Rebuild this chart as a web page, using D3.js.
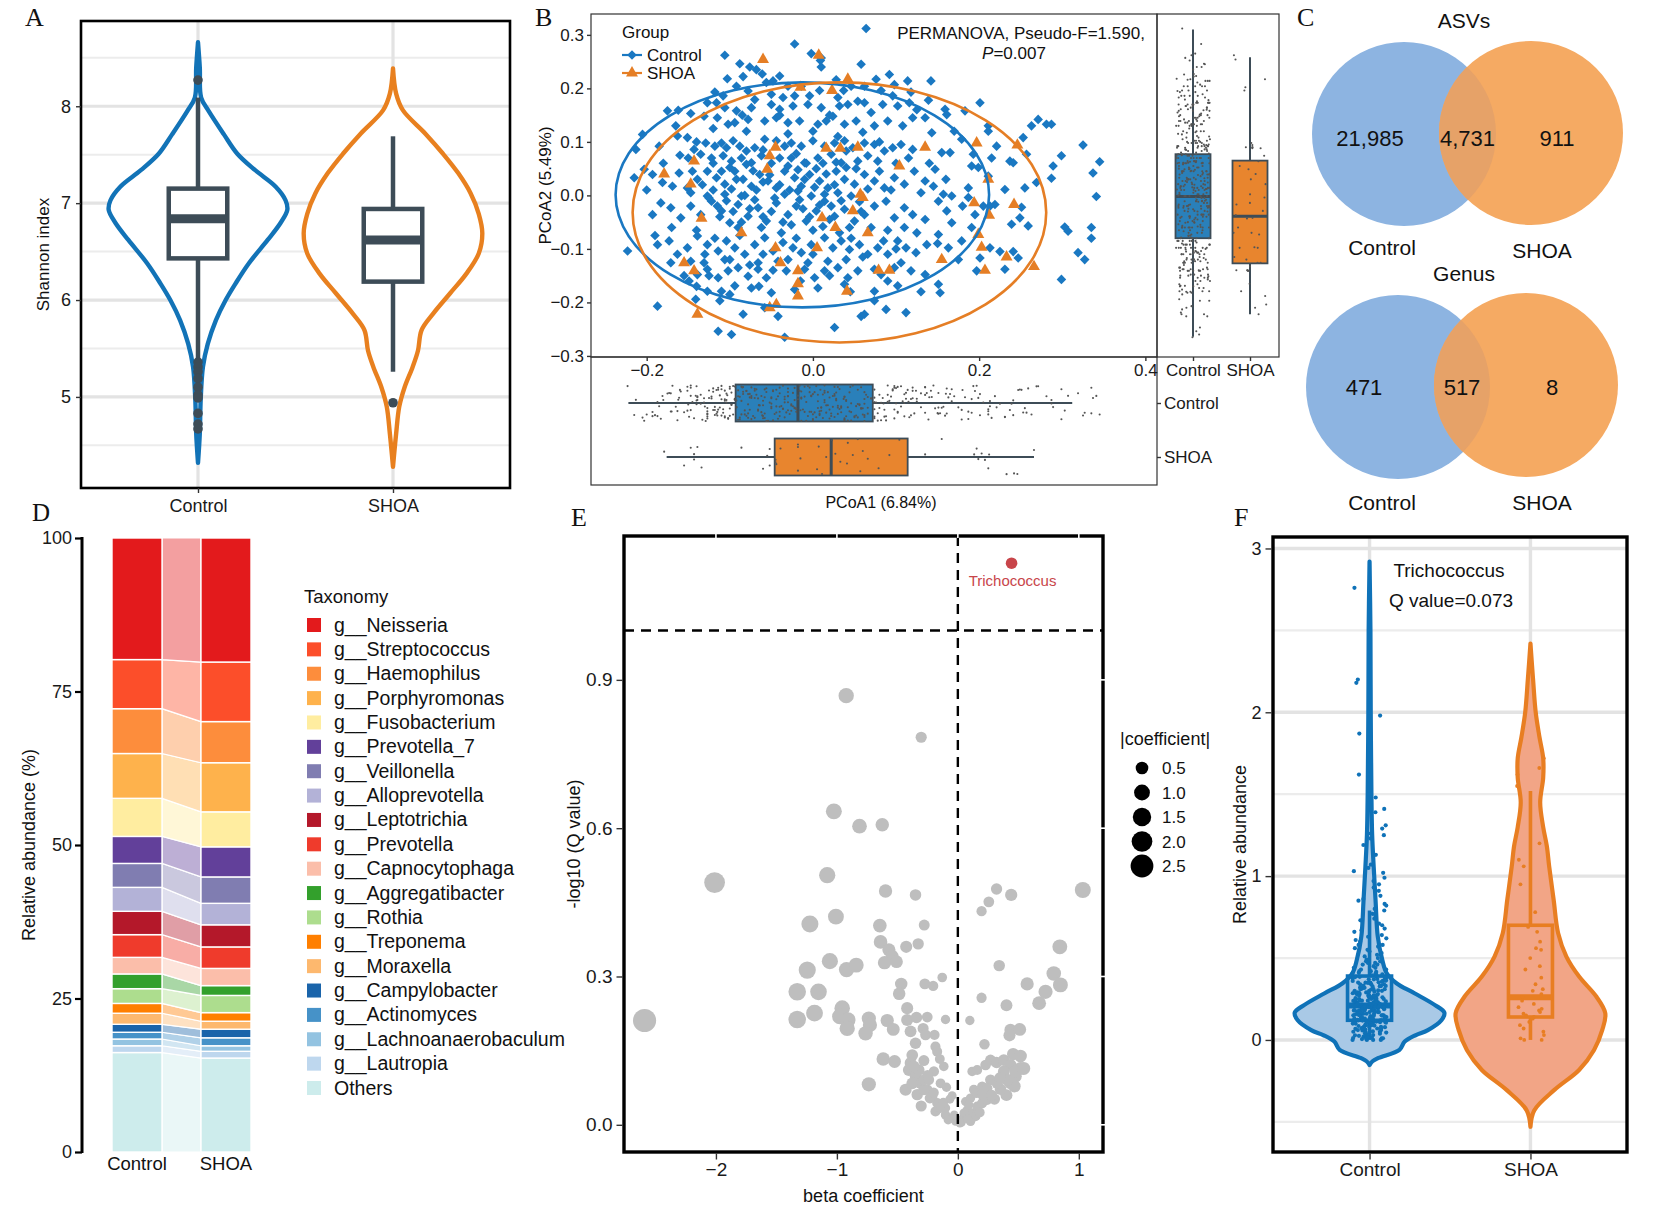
<!DOCTYPE html>
<html>
<head>
<meta charset="utf-8">
<script src="https://cdn.jsdelivr.net/npm/d3@7"></script>
<style>
  body { margin: 0; background: #fff; }
  svg { display: block; }
</style>
</head>
<body>
<svg id="fig" width="1654" height="1211"></svg>
<script>
// Six-panel microbiome figure (A–F), drawn with D3.

const SANS   = '"Liberation Sans", Arial, Helvetica, sans-serif';
const NARROW = '"Liberation Sans Narrow", "Arial Narrow", "Liberation Sans", Arial, sans-serif';
const SERIF  = '"Liberation Serif", "Times New Roman", serif';

const groups = ['Control', 'SHOA'];
const blue = '#1273B7', orange = '#E8801F', slate = '#3D4C57';

// ---------- A: Shannon index violins (value, relative half-width)
const shannonViolinControl = [[8.66,0],[8.40,0.02],[8.09,0.035],[7.95,0.12],[7.71,0.29],[7.51,0.44],[7.34,0.64],[7.17,0.87],[7.03,0.98],[6.93,1.0],[6.79,0.92],[6.62,0.78],[6.38,0.57],[6.17,0.42],[6.0,0.31],[5.79,0.2],[5.55,0.11],[5.31,0.055],[4.97,0.03],[4.62,0.02],[4.32,0]];
const shannonViolinSHOA = [[8.39,0],[8.13,0.035],[7.96,0.11],[7.72,0.36],[7.51,0.56],[7.31,0.73],[7.10,0.87],[6.89,0.96],[6.69,1.0],[6.48,0.96],[6.27,0.82],[6.07,0.64],[5.86,0.45],[5.69,0.32],[5.48,0.28],[5.31,0.22],[5.10,0.13],[4.90,0.07],[4.62,0.035],[4.28,0]];
const shannonBox = [
  { group: 'Control', lo: 5.35, q1: 6.43, med: 6.84, q3: 7.15, hi: 8.09, out: [8.27,5.36,5.31,5.26,5.19,5.10,5.02,4.99,4.83,4.72,4.67] },
  { group: 'SHOA',    lo: 5.26, q1: 6.19, med: 6.62, q3: 6.94, hi: 7.69, out: [4.94] }
];

// ---------- B: PCoA scores [PCoA1, PCoA2]
const pcoaControl = [
[0.064,0.312],[-0.022,0.283],[-0.002,0.265],[-0.106,0.262],[0.010,0.257],[-0.088,0.246],[-0.076,0.240],[-0.068,0.235],[-0.061,0.227],[-0.084,0.222],[-0.103,0.218],[-0.040,0.223],[0.010,0.240],[0.009,0.252],[0.058,0.245],[0.028,0.216],[0.076,0.217],[0.092,0.226],[0.142,0.214],[0.098,0.207],[0.114,0.214],[-0.092,0.204],[-0.078,0.195],[-0.056,0.211],[-0.048,0.214],[-0.030,0.204],[-0.014,0.204],[-0.004,0.186],[0.008,0.196],[0.037,0.196],[0.046,0.204],[0.062,0.204],[0.082,0.196],[0.096,0.186],[0.118,0.193],[-0.118,0.193],[-0.127,0.173],[-0.116,0.173],[-0.108,0.186],[-0.070,0.179],[-0.050,0.189],[-0.036,0.183],[-0.022,0.186],[0.030,0.183],
[-0.175,0.158],[-0.162,0.159],[-0.147,0.153],[-0.131,0.148],[-0.106,0.164],[-0.092,0.158],[-0.074,0.164],[-0.050,0.170],[-0.040,0.161],[-0.024,0.167],[-0.006,0.170],[0.010,0.164],[0.032,0.167],[0.042,0.170],[0.054,0.176],[0.062,0.173],[0.084,0.170],[0.102,0.167],[0.116,0.173],[0.139,0.178],[0.159,0.161],[0.161,0.151],[0.183,0.158],[0.201,0.173],[0.135,0.145],[0.211,0.130],[0.271,0.142],[0.281,0.133],[0.287,0.133],[0.263,0.130],[-0.102,0.133],[-0.094,0.136],[-0.078,0.142],[-0.058,0.139],[-0.044,0.145],[-0.030,0.136],[-0.016,0.139],[0.006,0.133],[0.016,0.139],[0.024,0.148],[0.038,0.133],[0.052,0.139],[0.074,0.130],[0.090,0.139],[0.108,0.130],[0.120,0.145],
[-0.205,0.114],[-0.213,0.086],[-0.185,0.092],[-0.163,0.111],[-0.151,0.108],[-0.143,0.086],[-0.129,0.098],[-0.118,0.092],[-0.110,0.098],[-0.104,0.089],[-0.096,0.102],[-0.088,0.092],[-0.080,0.083],[-0.070,0.089],[-0.058,0.105],[-0.044,0.102],[-0.034,0.092],[-0.026,0.098],[-0.014,0.092],[0.000,0.102],[0.014,0.092],[0.026,0.098],[0.038,0.102],[0.048,0.089],[0.062,0.098],[0.074,0.095],[0.086,0.083],[0.096,0.089],[0.106,0.095],[0.120,0.086],[0.143,0.117],[0.155,0.080],[0.179,0.105],[0.193,0.077],[0.215,0.070],[0.211,0.120],[0.221,0.092],[0.237,0.064],[0.253,0.108],[0.257,0.077],[0.289,0.055],[0.299,0.074],[0.325,0.094],[0.345,0.063],
[-0.135,0.077],[-0.122,0.070],[-0.108,0.074],[-0.098,0.064],[-0.086,0.070],[-0.074,0.061],[-0.062,0.074],[-0.026,0.070],[-0.010,0.061],[0.006,0.070],[0.022,0.077],[0.034,0.061],[0.054,0.064],[0.066,0.074],[0.078,0.064],
[-0.215,0.033],[-0.203,0.049],[-0.193,0.039],[-0.181,0.024],[-0.169,0.017],[-0.161,0.042],[-0.151,0.014],[-0.139,0.030],[-0.127,0.045],[-0.116,0.033],[-0.106,0.021],[-0.094,0.045],[-0.084,0.030],[-0.074,0.017],[-0.064,0.039],[-0.054,0.027],[-0.044,0.014],[-0.034,0.045],[-0.022,0.033],[-0.014,0.017],[-0.004,0.039],[0.008,0.027],[0.018,0.014],[0.028,0.045],[0.038,0.030],[0.050,0.021],[0.062,0.039],[0.074,0.027],[0.086,0.014],[0.098,0.033],[0.110,0.021],[0.122,0.045],[0.135,0.027],[0.147,0.049],[0.145,0.017],[0.157,0.002],[0.167,-0.001],[0.187,0.014],[0.191,0.055],[0.199,0.052],[0.211,0.036],[0.231,0.011],[0.241,0.061],[0.255,0.014],[0.269,0.024],[0.287,0.032],[0.337,0.042],[0.341,-0.002],[-0.034,0.002],[-0.018,0.008],[-0.002,-0.001],[0.014,0.002],[0.030,0.005],[0.046,-0.001],[-0.086,-0.001],[-0.106,0.002],[-0.127,-0.001],[-0.147,0.005],
[-0.193,-0.036],[-0.183,-0.014],[-0.171,-0.023],[-0.159,-0.042],[-0.147,-0.020],[-0.135,-0.036],[-0.122,-0.011],[-0.110,-0.029],[-0.100,-0.051],[-0.090,-0.017],[-0.078,-0.039],[-0.066,-0.023],[-0.056,-0.048],[-0.044,-0.014],[-0.030,-0.036],[-0.020,-0.020],[-0.008,-0.048],[0.004,-0.029],[0.014,-0.011],[0.026,-0.039],[0.038,-0.026],[0.050,-0.048],[0.062,-0.036],[0.074,-0.020],[0.088,-0.011],[0.098,-0.042],[0.110,-0.023],[0.120,-0.036],[0.135,-0.045],[0.151,-0.011],[0.161,-0.029],[0.167,-0.051],[0.187,-0.004],[0.195,-0.036],[0.205,-0.020],[0.213,-0.020],[0.219,-0.017],[0.251,-0.022],[0.249,-0.042],[0.259,-0.057],[0.303,-0.059],[0.307,-0.067],[0.335,-0.060],[0.191,-0.060],[0.239,-0.054],
[-0.223,-0.104],[-0.187,-0.092],[-0.173,-0.085],[-0.163,-0.110],[-0.151,-0.098],[-0.139,-0.076],[-0.127,-0.092],[-0.114,-0.104],[-0.104,-0.085],[-0.094,-0.098],[-0.082,-0.110],[-0.070,-0.092],[-0.058,-0.079],[-0.048,-0.104],[-0.036,-0.088],[-0.024,-0.098],[-0.014,-0.107],[-0.002,-0.092],[0.014,-0.079],[0.024,-0.098],[0.034,-0.085],[0.044,-0.101],[0.056,-0.092],[0.066,-0.110],[0.078,-0.098],[0.090,-0.110],[0.102,-0.085],[0.112,-0.098],[0.124,-0.107],[0.137,-0.092],[0.151,-0.073],[0.163,-0.098],[0.179,-0.085],[0.201,-0.117],[0.213,-0.098],[0.225,-0.105],[0.241,-0.105],[0.247,-0.117],[0.319,-0.107],[0.327,-0.120],[0.335,-0.080],[-0.171,-0.126],[-0.147,-0.123],[-0.131,-0.126],[-0.106,-0.120],[-0.066,-0.126],[-0.042,-0.123],[-0.006,-0.126],[0.018,-0.123],[0.106,-0.126],
[-0.149,-0.160],[-0.139,-0.148],[-0.127,-0.138],[-0.114,-0.154],[-0.102,-0.141],[-0.090,-0.135],[-0.078,-0.151],[-0.066,-0.138],[-0.056,-0.154],[-0.032,-0.141],[-0.010,-0.138],[0.002,-0.154],[0.014,-0.141],[0.030,-0.135],[0.042,-0.154],[0.054,-0.141],[0.074,-0.138],[0.082,-0.148],[0.098,-0.135],[0.118,-0.141],[0.135,-0.148],[0.151,-0.166],[0.153,-0.182],[0.197,-0.141],[0.231,-0.138],[0.299,-0.157],[-0.127,-0.179],[-0.110,-0.179],[-0.094,-0.169],[-0.074,-0.173],[-0.050,-0.182],[-0.022,-0.176],[0.006,-0.173],[0.038,-0.166],[0.074,-0.179],[0.102,-0.169],
[-0.187,-0.207],[-0.141,-0.194],[-0.112,-0.197],[-0.084,-0.222],[-0.058,-0.210],[-0.042,-0.226],[0.058,-0.226],[0.062,-0.222],[0.074,-0.197],[0.088,-0.213],[0.112,-0.219],[0.026,-0.247],[-0.114,-0.254],[-0.098,-0.260],[-0.034,-0.265],
[-0.120,0.060],[-0.110,0.045],[-0.100,0.052],[-0.092,0.030],[-0.080,0.058],[-0.072,0.046],[-0.060,0.025],[-0.050,0.060],[-0.040,0.070],[-0.030,0.055],[-0.018,0.048],[-0.008,0.060],[0.004,0.050],[0.016,0.040],[0.028,0.062],[0.040,0.052],
[-0.125,-0.005],[-0.112,-0.040],[-0.096,-0.030],[-0.086,-0.050],[-0.070,-0.008],[-0.062,-0.060],[-0.050,-0.030],[-0.038,-0.070],[-0.026,-0.055],[-0.012,-0.025],[0.000,-0.065],[0.012,-0.058],[0.022,-0.020],[0.032,-0.070],[0.044,-0.060],[0.056,-0.012],
[-0.140,-0.065],[-0.130,-0.110],[-0.118,-0.080],[-0.100,-0.120],[-0.088,-0.075],[-0.076,-0.130],[-0.060,-0.110],[-0.048,-0.140],[-0.030,-0.120],[-0.020,-0.080],[0.000,-0.110],[0.020,-0.150],[0.040,-0.120],[0.060,-0.115],
[-0.150,0.070],[-0.140,0.100],[-0.120,0.125],[-0.080,0.120],[-0.060,0.085],[-0.030,0.115],[0.000,0.120],[0.030,0.110],[0.060,0.118],[0.080,0.100],[0.100,0.060],[0.110,-0.060],[0.090,-0.065],[0.130,0.005],
[-0.145,0.045],[-0.133,0.020],[-0.120,0.010],[-0.115,-0.020],[-0.104,-0.010],[-0.098,0.012],[-0.090,-0.060],[-0.082,0.000],[-0.076,-0.025],[-0.068,0.010],[-0.060,-0.040],[-0.052,0.038],[-0.046,-0.005],[-0.040,0.020],[-0.036,-0.050],[-0.028,0.010],[-0.020,0.078],[-0.016,-0.008],[-0.010,0.030],[-0.004,-0.040],[0.002,0.015],[0.008,-0.018],[0.012,0.060],[0.020,-0.045],[0.026,0.020],[0.034,-0.010],[0.040,0.083],[0.046,-0.080],[0.052,0.050],[0.058,-0.030],[0.066,0.012],[0.070,-0.060],[0.080,0.045],[0.085,-0.085],[0.094,0.010],[0.100,-0.100],[0.115,0.070],[0.125,-0.070],[0.140,0.060],[0.150,-0.090],[0.165,0.080],[0.175,-0.120],
[-0.160,0.075],[-0.170,-0.060],[-0.180,0.060],[-0.190,-0.075],[-0.200,0.010],[-0.155,-0.150],[-0.165,0.130],[-0.115,0.145],[-0.125,-0.150],[-0.085,0.150],[-0.065,-0.170],[-0.040,0.150],[-0.015,-0.160],[0.020,0.150],[0.045,-0.180],[0.070,0.155],[0.090,-0.160],[0.125,0.160],[0.130,-0.180],[-0.100,-0.185],[-0.140,-0.170],[0.170,0.120],[0.180,-0.020],[0.160,0.030]
];
const pcoaSHOA = [
[0.007,0.262],[-0.060,0.254],[-0.015,0.202],[0.023,0.196],[0.042,0.217],
[0.197,0.098],[0.246,0.094],[0.135,0.090],[0.054,0.090],[0.016,0.088],[-0.045,0.090],[-0.052,0.074],[0.033,0.088],[0.104,0.055],[-0.143,0.064],
[-0.179,0.040],[-0.147,0.021],[-0.055,0.049],[0.060,-0.004],[0.057,0.002],[0.211,0.030],
[0.194,-0.014],[0.242,-0.017],[0.212,-0.037],[-0.134,-0.043],[0.048,-0.029],[0.011,-0.042],[0.027,-0.060],[0.066,-0.070],[0.199,-0.073],[-0.086,-0.070],
[0.203,-0.097],[0.233,-0.115],[0.155,-0.120],[0.005,-0.098],[-0.045,-0.098],[-0.155,-0.126],[-0.039,-0.126],
[-0.143,-0.141],[-0.018,-0.141],[0.079,-0.140],[0.092,-0.140],[0.207,-0.140],[0.266,-0.133],[-0.018,-0.165],[-0.018,-0.188],[0.041,-0.179],[-0.044,-0.204],[-0.052,-0.210],
[-0.139,-0.222]
];
const pcoaEllipse = [
  { group: 'Control', cx: -0.0127, cy: 0.001,   rx: 0.2247, ry: 0.2103 },
  { group: 'SHOA',    cx: 0.0319,  cy: -0.0318, rx: 0.2488, ry: 0.243 }
];
const pcoa1Box = [
  { group: 'Control', lo: -0.222, q1: -0.093, med: -0.018, q3: 0.072, hi: 0.312 },
  { group: 'SHOA',    lo: -0.176, q1: -0.046, med: 0.022,  q3: 0.114, hi: 0.266 }
];
const pcoa2Box = [
  { group: 'Control', lo: -0.264, q1: -0.080, med: -0.002, q3: 0.077, hi: 0.310 },
  { group: 'SHOA',    lo: -0.222, q1: -0.127, med: -0.039, q3: 0.065, hi: 0.258 }
];

// ---------- C: Venn counts [Control only, shared, SHOA only]
const vennASV   = [21985, 4731, 911];
const vennGenus = [471, 517, 8];

// ---------- D: genus composition (%)
const taxa = ['g__Neisseria','g__Streptococcus','g__Haemophilus','g__Porphyromonas','g__Fusobacterium','g__Prevotella_7','g__Veillonella','g__Alloprevotella','g__Leptotrichia','g__Prevotella','g__Capnocytophaga','g__Aggregatibacter','g__Rothia','g__Treponema','g__Moraxella','g__Campylobacter','g__Actinomyces','g__Lachnoanaerobaculum','g__Lautropia','Others'];
const abundanceControl = [19.8,8.0,7.3,7.3,6.2,4.4,3.9,3.9,3.8,3.7,2.7,2.4,2.4,1.6,1.8,1.3,1.1,1.1,1.1,16.2];
const abundanceSHOA    = [20.2,9.7,6.7,8.0,5.7,4.9,4.3,3.5,3.6,3.5,2.8,1.6,2.8,1.4,1.3,1.4,1.3,0.9,1.1,15.3];
const taxaColors = ['#E31A1C','#FC4E2A','#FD8D3C','#FEB24C','#FFEDA0','#62409A','#807DB1','#B3B2D7','#B4182A','#EF3B2C','#FBBEAA','#33A02C','#ADDD8E','#FF7F00','#FDB86E','#1A64AA','#4692C8','#93C3E1','#BED7EE','#CDECEC'];

// ---------- E: volcano [beta coefficient, -log10 Q]
const volcano = [
[-0.923,0.868],[-0.303,0.784],[-1.025,0.634],[-0.813,0.604],[-0.625,0.607],
[-2.011,0.490],[-2.590,0.211],[-1.080,0.505],[-0.598,0.473],[-0.350,0.465],[0.320,0.477],[0.441,0.465],[0.256,0.451],[0.196,0.432],[1.033,0.475],
[-1.223,0.406],[-1.008,0.421],[-0.645,0.403],[-0.278,0.404],[-0.639,0.370],[-0.427,0.360],[-0.328,0.366],[-0.570,0.354],[-0.543,0.341],[-0.606,0.328],[-0.507,0.330],[0.843,0.360],
[-1.058,0.331],[-1.245,0.313],[-0.920,0.314],[-0.840,0.323],[0.342,0.322],[0.793,0.306],[-0.129,0.298],[-0.273,0.285],[-0.204,0.281],[-0.468,0.285],[-0.485,0.265],[0.573,0.285],[0.848,0.283],[0.725,0.269],
[-1.328,0.269],[-1.152,0.269],[0.196,0.257],[0.402,0.242],[0.672,0.246],[-1.185,0.226],[-1.328,0.213],[-0.956,0.236],[-0.975,0.219],[-0.909,0.212],[-0.915,0.195],[-0.736,0.215],[-0.727,0.202],[-0.763,0.185],[-0.584,0.211],[-0.534,0.193],[-0.419,0.236],[-0.419,0.212],[-0.342,0.217],[-0.253,0.218],[-0.102,0.213],[0.099,0.211],
[-0.391,0.189],[-0.287,0.195],[-0.267,0.182],[-0.193,0.182],[-0.350,0.165],[-0.185,0.158],[-0.171,0.148],[0.220,0.163],[0.435,0.192],[0.512,0.193],[0.427,0.181],
[-0.617,0.133],[-0.523,0.128],[-0.377,0.141],[-0.391,0.125],[-0.281,0.130],[-0.149,0.133],[-0.116,0.118],[-0.198,0.108],[-0.405,0.111],[-0.350,0.098],[-0.309,0.084],[-0.432,0.071],[-0.336,0.061],[-0.253,0.071],[-0.212,0.057],[-0.303,0.038],[-0.736,0.082],[-0.143,0.084],[-0.094,0.076],[-0.066,0.052],[-0.047,0.059],
[-0.185,0.027],[-0.143,0.034],[-0.102,0.020],[-0.047,0.013],[-0.019,0.007],[0.017,0.003],[0.050,0.017],[0.077,0.030],[0.118,0.024],[0.160,0.037],[0.201,0.044],[0.242,0.051],[0.063,0.047],[0.105,0.054],[0.132,0.071],[0.201,0.077],[0.270,0.091],[0.303,0.052],
[0.118,0.108],[0.160,0.111],[0.229,0.121],[0.270,0.131],[0.320,0.126],[0.380,0.131],[0.435,0.121],[0.457,0.143],[0.518,0.139],[0.518,0.114],[0.477,0.098],[0.435,0.084],[0.468,0.078],[0.402,0.060],[0.353,0.072],[0.325,0.084],[0.380,0.108],[0.408,0.091],[0.477,0.108],[0.545,0.114],[0.154,0.064],[0.201,0.061],[0.242,0.074],[0.146,0.017],[0.105,0.007],[0.022,0.010],[0.050,0.024],
[-0.102,0.034],[-0.171,0.044],[-0.231,0.054],[-0.281,0.071],[-0.377,0.084],[-0.322,0.111],[-0.364,0.118],[-0.281,0.091],[-0.240,0.091],
[-0.08,0.010],[-0.03,0.020],[0.03,0.005],[0.08,0.012],[-0.12,0.045],[0.09,0.040],[-0.20,0.065],[0.18,0.025],[0.28,0.060],[-0.25,0.100],[0.35,0.095]
];
const volcanoHit = { name: 'Trichococcus', beta: 0.444, q: 1.136 };
const coefLegend = [0.5, 1.0, 1.5, 2.0, 2.5];

// ---------- F: Trichococcus relative abundance
const trichoViolinControl = [[-0.153,0],[-0.13,0.04],[-0.11,0.12],[-0.06,0.40],[-0.01,0.47],[0.03,0.62],[0.06,0.78],[0.12,0.96],[0.167,1.0],[0.214,0.87],[0.285,0.60],[0.346,0.36],[0.407,0.23],[0.489,0.17],[0.631,0.11],[0.855,0.08],[1.06,0.055],[1.25,0.035],[1.5,0.025],[2.0,0.016],[2.5,0.012],[2.92,0]];
const trichoViolinSHOA = [[-0.53,0],[-0.43,0.05],[-0.305,0.32],[-0.183,0.65],[-0.061,0.85],[0.061,0.96],[0.163,1.0],[0.265,0.88],[0.387,0.65],[0.509,0.48],[0.652,0.37],[0.855,0.31],[1.06,0.25],[1.18,0.22],[1.3,0.17],[1.45,0.13],[1.6,0.17],[1.72,0.17],[1.85,0.12],[2.0,0.07],[2.2,0.035],[2.42,0]];
const trichoBox = [
  { group: 'Control', lo: 0.0, q1: 0.12, med: 0.21, q3: 0.39, hi: 0.79 },
  { group: 'SHOA',    lo: 0.0, q1: 0.14, med: 0.26, q3: 0.70, hi: 1.52 }
];
const trichoControl = [
2.76,2.20,2.18,1.98,1.87,1.62,1.48,1.41,1.39,1.31,1.29,1.26,1.25,1.23,1.19,1.13,1.07,1.05,1.03,1.02,0.99,0.97,0.95,0.93,0.91,0.88,0.86,0.85,0.83,0.82,0.80,0.79,0.77,0.76,0.74,0.73,0.71,0.70,0.68,0.67,0.66,0.64,0.63,0.61,0.60,0.58,0.57,0.56,0.55,0.53,0.52,0.51,0.50,0.49,0.48,0.47,0.46,0.45,0.44,0.44,0.43,0.42,0.41,0.41,0.40,0.40,
0.39,0.38,0.38,0.37,0.37,0.36,0.36,0.35,0.35,0.35,0.34,0.34,0.33,0.33,0.33,0.32,0.32,0.31,0.31,0.31,0.30,0.30,0.30,0.29,0.29,0.29,0.28,0.28,0.28,0.27,0.27,0.27,0.26,0.26,0.26,0.26,0.25,0.25,0.25,0.24,0.24,0.24,0.24,0.23,0.23,0.23,0.23,0.22,0.22,0.22,0.22,0.21,0.21,0.21,0.21,0.21,0.20,0.20,0.20,0.20,0.19,0.19,0.19,0.19,0.19,0.18,0.18,0.18,0.18,0.18,0.17,0.17,0.17,0.17,0.16,0.16,0.16,0.16,0.16,0.15,0.15,0.15,0.15,0.14,0.14,0.14,0.14,0.13,0.13,0.13,0.13,0.12,0.12,0.12,
0.11,0.11,0.11,0.10,0.10,0.10,0.09,0.09,0.09,0.08,0.08,0.08,0.07,0.07,0.07,0.06,0.06,0.06,0.05,0.05,0.04,0.04,0.03,0.03,0.02,0.02,0.01,0.01,0.00,0.00,0.00,0.00,
0.345,0.315,0.285,0.255,0.225,0.195,0.165,0.135,0.355,0.325,0.295,0.265,0.235,0.205,0.175,0.145,0.125,0.385,0.365,0.275,0.245,0.215,0.185,0.155,0.135,0.105,0.085,0.065,0.045,0.025,0.015,0.005,
0.372,0.348,0.318,0.292,0.262,0.238,0.212,0.188,0.162,0.138,0.118,0.098,0.078,0.058,0.038,0.018,0.008,0.332,0.302,0.272,0.248,0.222,0.198,0.172,0.148,0.128,0.112,0.092,0.072,0.052,
0.62,0.58,0.54,0.52,0.48,0.47,0.46,0.43,0.42,0.415,0.405,0.395,0.384,0.376,0.362,0.352,0.338,0.328,0.308,0.288,0.268,0.252,0.232,0.218,0.202,0.182,0.168,0.152,0.142,0.122,0.108,0.088,0.068,0.048,0.028,0.012
];
const trichoSHOA = [1.72,1.66,1.62,1.55,1.20,1.10,1.06,0.95,0.78,0.69,0.66,0.60,0.56,0.55,0.50,0.45,0.43,0.38,0.34,0.31,0.30,0.28,0.26,0.24,0.22,0.20,0.19,0.18,0.17,0.16,0.15,0.14,0.13,0.11,0.09,0.07,0.05,0.03,0.01,0.0,0.0];

// ------------------------------------------------------------------
const svg = d3.select('#fig');
svg.append('rect').attr('width', 1654).attr('height', 1211).attr('fill', '#fff');
const defs = svg.append('defs');

// deterministic jitter in [-0.5, 0.5] (position only)
function jit(i, k) { const s = Math.sin(i * 12.9898 + k * 78.233) * 43758.5453; return s - Math.floor(s) - 0.5; }

function axisStyle(sel, size, fam) {
  sel.attr('font-family', fam || SANS).attr('font-size', size);
  sel.select('.domain').remove();
  sel.selectAll('.tick line').attr('stroke', '#333').attr('stroke-width', 1.4);
  sel.selectAll('.tick text').attr('fill', '#1a1a1a');
}
function label(txt, x, y, size, opts = {}) {
  const t = svg.append('text').attr('x', x).attr('y', y).attr('font-size', size)
    .attr('font-family', opts.fam || SANS).attr('fill', opts.fill || '#111')
    .attr('text-anchor', opts.anchor || 'middle').text(txt);
  if (opts.rotate) t.attr('transform', `rotate(-90,${x},${y})`);
  return t;
}
function hlines(g, vals, y, x0, x1, col, w) {
  g.selectAll(null).data(vals).join('line')
    .attr('x1', x0).attr('x2', x1).attr('y1', d => y(d)).attr('y2', d => y(d))
    .attr('stroke', col).attr('stroke-width', w);
}

// ---------------- Panel A
(function drawA() {
  const L = 81, R = 510, T = 21, B = 488;
  const x = d3.scalePoint().domain(groups).range([L, R]).padding(0.6);
  const y = d3.scaleLinear().domain([4.06, 8.88]).range([B, T]);
  const g = svg.append('g');
  hlines(g, [4.5, 5.5, 6.5, 7.5, 8.5], y, L, R, '#ECECEC', 2);
  hlines(g, [5, 6, 7, 8], y, L, R, '#E3E3E3', 3.2);
  g.selectAll(null).data(groups).join('line')
    .attr('x1', d => x(d)).attr('x2', d => x(d)).attr('y1', T).attr('y2', B)
    .attr('stroke', '#E3E3E3').attr('stroke-width', 3.2);

  const hw = x.step() * 0.458;
  const violin = cx => d3.area().curve(d3.curveCatmullRom)
    .y(d => y(d[0])).x0(d => cx - d[1] * hw).x1(d => cx + d[1] * hw);
  [[shannonViolinControl, 'Control', blue], [shannonViolinSHOA, 'SHOA', orange]].forEach(([p, grp, col]) => {
    g.append('path').attr('d', violin(x(grp))(p)).attr('fill', '#fff')
      .attr('stroke', col).attr('stroke-width', 4.4).attr('stroke-linejoin', 'round');
  });
  shannonBox.forEach(b => {
    const cx = x(b.group), bw = x.step() * 0.15;
    g.append('line').attr('x1', cx).attr('x2', cx).attr('y1', y(b.hi)).attr('y2', y(b.q3)).attr('stroke', slate).attr('stroke-width', 4.5);
    g.append('line').attr('x1', cx).attr('x2', cx).attr('y1', y(b.q1)).attr('y2', y(b.lo)).attr('stroke', slate).attr('stroke-width', 4.5);
    g.append('rect').attr('x', cx - bw).attr('width', 2 * bw).attr('y', y(b.q3)).attr('height', y(b.q1) - y(b.q3))
      .attr('fill', '#fff').attr('stroke', slate).attr('stroke-width', 4.5);
    g.append('line').attr('x1', cx - bw).attr('x2', cx + bw).attr('y1', y(b.med)).attr('y2', y(b.med)).attr('stroke', slate).attr('stroke-width', 9);
    g.selectAll(null).data(b.out).join('circle').attr('cx', cx).attr('cy', d => y(d)).attr('r', 4.8).attr('fill', slate);
  });
  g.append('rect').attr('x', L).attr('y', T).attr('width', R - L).attr('height', B - T)
    .attr('fill', 'none').attr('stroke', '#000').attr('stroke-width', 2.6);
  g.append('g').attr('transform', `translate(${L},0)`)
    .call(d3.axisLeft(y).tickValues([5, 6, 7, 8]).tickFormat(d3.format('d')).tickSize(5).tickPadding(5))
    .call(s => axisStyle(s, 18));
  g.append('g').attr('transform', `translate(0,${B})`)
    .call(d3.axisBottom(x).tickSize(5).tickPadding(6))
    .call(s => axisStyle(s, 18));
  label('Shannon index', 49, (T + B) / 2, 17, { rotate: true });
  label('A', 25, 26, 26, { fam: SERIF, anchor: 'start' });
})();

// ---------------- Panel B
(function drawB() {
  const L = 591, R = 1157, T = 14, B = 357, RR = 1279, BB = 485;
  const x = d3.scaleLinear().domain([-0.267, 0.414]).range([L, R]);
  const y = d3.scaleLinear().domain([-0.302, 0.339]).range([B, T]);
  const cBlue = '#1A78C2', cOrange = '#E57E25', dot = '#555';
  const g = svg.append('g');
  defs.append('clipPath').attr('id', 'clipB').append('rect').attr('x', L).attr('y', T).attr('width', R - L).attr('height', B - T);
  const pts = g.append('g').attr('clip-path', 'url(#clipB)');
  const diamond = d3.symbol(d3.symbolSquare, 46)();
  const tri = d3.symbol(d3.symbolTriangle, 62)();
  pts.selectAll(null).data(pcoaControl).join('path').attr('d', diamond)
    .attr('transform', d => `translate(${x(d[0])},${y(d[1])}) rotate(45)`).attr('fill', cBlue);
  pts.selectAll(null).data(pcoaSHOA).join('path').attr('d', tri)
    .attr('transform', d => `translate(${x(d[0])},${y(d[1])})`).attr('fill', cOrange);
  pcoaEllipse.forEach(e => {
    pts.append('ellipse').attr('cx', x(e.cx)).attr('cy', y(e.cy))
      .attr('rx', x(e.cx + e.rx) - x(e.cx)).attr('ry', y(e.cy) - y(e.cy + e.ry))
      .attr('fill', 'none').attr('stroke', e.group === 'Control' ? cBlue : cOrange).attr('stroke-width', 2.6);
  });
  // frames
  [[L, T, R, B], [R, T, RR, B], [L, B, R, BB]].forEach(([a, b, c, d]) =>
    g.append('rect').attr('x', a).attr('y', b).attr('width', c - a).attr('height', d - b)
      .attr('fill', 'none').attr('stroke', '#333').attr('stroke-width', 1.2));
  g.append('g').attr('transform', `translate(${L},0)`)
    .call(d3.axisLeft(y).tickValues([-0.3, -0.2, -0.1, 0, 0.1, 0.2, 0.3]).tickFormat(d3.format('.1f')).tickSize(4).tickPadding(3))
    .call(s => axisStyle(s, 17, NARROW));
  g.append('g').attr('transform', `translate(0,${B})`)
    .call(d3.axisBottom(x).tickValues([-0.2, 0, 0.2, 0.4]).tickFormat(d3.format('.1f')).tickSize(4).tickPadding(3))
    .call(s => axisStyle(s, 17, NARROW));

  // legend + annotation
  label('Group', 622, 38, 17, { fam: NARROW, anchor: 'start' });
  [['Control', cBlue, diamond, 55, 45], ['SHOA', cOrange, tri, 73, 0]].forEach(([t, c, sym, yy, rot]) => {
    g.append('line').attr('x1', 622).attr('x2', 642).attr('y1', yy).attr('y2', yy).attr('stroke', c).attr('stroke-width', 2.2);
    g.append('path').attr('d', sym).attr('transform', `translate(632,${yy}) rotate(${rot})`).attr('fill', c);
    label(t, 647, yy + 6, 17, { fam: NARROW, anchor: 'start' });
  });
  label('PERMANOVA, Pseudo-F=1.590,', 1021, 39, 17, { fam: NARROW });
  const p = label('', 1014, 59, 17, { fam: NARROW });
  p.append('tspan').attr('font-style', 'italic').text('P');
  p.append('tspan').text('=0.007');

  // right marginal: PCoA2
  const xr = d3.scalePoint().domain(groups).range([1193, 1250]);
  const byGroupY = { Control: pcoaControl.map(d => d[1]), SHOA: pcoaSHOA.map(d => d[1]) };
  const byGroupX = { Control: pcoaControl.map(d => d[0]), SHOA: pcoaSHOA.map(d => d[0]) };
  const fill = { Control: '#2A80BA', SHOA: '#E8852E' };
  pcoa2Box.forEach(b => {
    const cx = xr(b.group), hw = 17.5;
    g.append('line').attr('x1', cx).attr('x2', cx).attr('y1', y(b.hi)).attr('y2', y(b.lo)).attr('stroke', slate).attr('stroke-width', 2);
    g.append('rect').attr('x', cx - hw).attr('width', 2 * hw).attr('y', y(b.q3)).attr('height', y(b.q1) - y(b.q3))
      .attr('fill', fill[b.group]).attr('stroke', slate).attr('stroke-width', 1.8);
    g.append('line').attr('x1', cx - hw).attr('x2', cx + hw).attr('y1', y(b.med)).attr('y2', y(b.med)).attr('stroke', slate).attr('stroke-width', 3);
    g.selectAll(null).data(byGroupY[b.group]).join('circle')
      .attr('cx', (d, i) => cx + jit(i, b.group === 'Control' ? 1 : 2) * 34).attr('cy', d => y(d)).attr('r', 1.05).attr('fill', dot);
  });
  g.append('g').attr('transform', `translate(0,${B})`)
    .call(d3.axisBottom(xr).tickSize(4).tickPadding(3)).call(s => axisStyle(s, 17, NARROW));

  // bottom marginal: PCoA1
  const yb = d3.scalePoint().domain(groups).range([403, 457]);
  pcoa1Box.forEach(b => {
    const cy = yb(b.group), hh = 18.5;
    g.append('line').attr('x1', x(b.lo)).attr('x2', x(b.hi)).attr('y1', cy).attr('y2', cy).attr('stroke', slate).attr('stroke-width', 2);
    g.append('rect').attr('x', x(b.q1)).attr('width', x(b.q3) - x(b.q1)).attr('y', cy - hh).attr('height', 2 * hh)
      .attr('fill', fill[b.group]).attr('stroke', slate).attr('stroke-width', 1.8);
    g.append('line').attr('x1', x(b.med)).attr('x2', x(b.med)).attr('y1', cy - hh).attr('y2', cy + hh).attr('stroke', slate).attr('stroke-width', 3);
    g.selectAll(null).data(byGroupX[b.group]).join('circle')
      .attr('cx', d => x(d)).attr('cy', (d, i) => cy + jit(i, b.group === 'Control' ? 3 : 4) * 36).attr('r', 1.05).attr('fill', dot);
  });
  g.append('g').attr('transform', `translate(${R},0)`)
    .call(d3.axisRight(yb).tickSize(4).tickPadding(3)).call(s => axisStyle(s, 17, NARROW));
  label('PCoA1 (6.84%)', 881, 508, 16);
  label('PCoA2 (5.49%)', 551, (T + B) / 2, 17, { rotate: true, fam: NARROW });
  label('B', 535, 26, 26, { fam: SERIF, anchor: 'start' });
})();

// ---------------- Panel C
(function drawC() {
  const vBlue = '#8DB4E1', vOrange = '#F5AA63', vMix = '#E6A268';
  const fmt = d3.format(',');
  const sets = [
    { title: 'ASVs', ty: 28, counts: vennASV, c1: [1404, 134], c2: [1531, 133], ny: 146, ly: [255, 258] },
    { title: 'Genus', ty: 281, counts: vennGenus, c1: [1398, 387], c2: [1526, 385], ny: 395, ly: [510, 510] }
  ];
  sets.forEach((s, k) => {
    const r = 92;
    const g = svg.append('g');
    g.append('circle').attr('cx', s.c1[0]).attr('cy', s.c1[1]).attr('r', r).attr('fill', vBlue);
    g.append('circle').attr('cx', s.c2[0]).attr('cy', s.c2[1]).attr('r', r).attr('fill', vOrange);
    defs.append('clipPath').attr('id', 'vc' + k).append('circle').attr('cx', s.c2[0]).attr('cy', s.c2[1]).attr('r', r);
    g.append('circle').attr('cx', s.c1[0]).attr('cy', s.c1[1]).attr('r', r).attr('fill', vMix).attr('clip-path', `url(#vc${k})`);
    const mid = (s.c1[0] + r + s.c2[0] - r) / 2;
    const xs = [s.c1[0] - 34, mid, s.c2[0] + 26];
    s.counts.forEach((v, i) => label(fmt(v), xs[i], s.ny, 22));
    label(s.title, 1464, s.ty, 21);
    label('Control', 1382, s.ly[0], 21);
    label('SHOA', 1542, s.ly[1], 21);
  });
  label('C', 1297, 26, 26, { fam: SERIF, anchor: 'start' });
})();

// ---------------- Panel D
(function drawD() {
  const y = d3.scaleLinear().domain([0, 100]).range([1152, 538]);
  const x = d3.scaleBand().domain(groups).range([112, 251]).paddingInner(0.438);
  const rows = groups.map((grp, gi) => {
    const o = { group: grp };
    taxa.forEach((t, i) => { o[t] = (gi ? abundanceSHOA : abundanceControl)[i]; });
    return o;
  });
  const series = d3.stack().keys(taxa.slice().reverse())(rows);
  const color = key => taxaColors[taxa.indexOf(key)];
  const g = svg.append('g');
  const xr = x('Control') + x.bandwidth(), xl = x('SHOA');
  series.forEach(s => {
    const c = s[0], h = s[1];
    g.append('path')
      .attr('d', `M${xr},${y(c[1])}L${xl},${y(h[1])}L${xl},${y(h[0])}L${xr},${y(c[0])}Z`)
      .attr('fill', color(s.key)).attr('fill-opacity', 0.42).attr('stroke', '#fff').attr('stroke-width', 1.2);
    s.forEach((d, i) => {
      g.append('rect').attr('x', x(groups[i])).attr('width', x.bandwidth())
        .attr('y', y(d[1])).attr('height', y(d[0]) - y(d[1]))
        .attr('fill', color(s.key)).attr('stroke', '#fff').attr('stroke-width', 1.4);
    });
  });
  g.append('g').attr('transform', 'translate(82,0)')
    .call(d3.axisLeft(y).tickValues([0, 25, 50, 75, 100]).tickSize(7).tickPadding(3))
    .call(s => axisStyle(s, 18))
    .call(s => s.selectAll('.tick line').attr('stroke', '#000').attr('stroke-width', 2.2));
  g.append('line').attr('x1', 82).attr('x2', 82).attr('y1', y(100) - 1).attr('y2', y(0) + 1).attr('stroke', '#000').attr('stroke-width', 3);
  groups.forEach(grp => label(grp, x(grp) + x.bandwidth() / 2, 1170, 18.5));
  label('Relative abundance (%)', 35, 845, 18, { rotate: true });

  // legend
  label('Taxonomy', 304, 603, 18.5, { anchor: 'start' });
  const ly = d3.scalePoint().domain(taxa).range([625, 1088]);
  taxa.forEach((t, i) => {
    g.append('rect').attr('x', 307).attr('y', ly(t) - 7).attr('width', 14).attr('height', 14).attr('fill', taxaColors[i]);
    label(t, 334, ly(t) + 6.5, 19.5, { anchor: 'start' });
  });
  label('D', 32, 521, 25, { fam: SERIF, anchor: 'start' });
})();

// ---------------- Panel E
(function drawE() {
  const L = 624, R = 1103, T = 536, B = 1152;
  const x = d3.scaleLinear().domain([-2.76, 1.2]).range([L, R]);
  const y = d3.scaleLinear().domain([-0.055, 1.191]).range([B, T]);
  const area = d3.scaleLinear().domain([0.5, 2.5]).range([40, 130]);
  const rad = b => Math.sqrt(area(Math.abs(b)));
  const g = svg.append('g');
  defs.append('clipPath').attr('id', 'clipE').append('rect').attr('x', L).attr('y', T).attr('width', R - L).attr('height', B - T);
  const inner = g.append('g').attr('clip-path', 'url(#clipE)');
  inner.selectAll(null).data(volcano).join('circle')
    .attr('cx', d => x(d[0])).attr('cy', d => y(d[1])).attr('r', d => rad(d[0])).attr('fill', '#BEBEBE');
  inner.append('line').attr('x1', L).attr('x2', R).attr('y1', y(1)).attr('y2', y(1))
    .attr('stroke', '#000').attr('stroke-width', 2.4).attr('stroke-dasharray', '10,7');
  inner.append('line').attr('x1', x(0)).attr('x2', x(0)).attr('y1', T).attr('y2', B)
    .attr('stroke', '#000').attr('stroke-width', 2.4).attr('stroke-dasharray', '10,7');
  inner.append('circle').attr('cx', x(volcanoHit.beta)).attr('cy', y(volcanoHit.q)).attr('r', 5.8).attr('fill', '#C8454A');
  label(volcanoHit.name, x(volcanoHit.beta) + 1, 586, 15, { fill: '#C8454A' });

  g.append('rect').attr('x', L).attr('y', T).attr('width', R - L).attr('height', B - T)
    .attr('fill', 'none').attr('stroke', '#000').attr('stroke-width', 3.4);
  [-2, -1, 0, 1].forEach(v => g.append('line').attr('x1', x(v)).attr('x2', x(v)).attr('y1', T - 2).attr('y2', T + 2).attr('stroke', '#fff').attr('stroke-width', 1.6));
  [0, 0.3, 0.6, 0.9].forEach(v => g.append('line').attr('x1', R - 2).attr('x2', R + 2).attr('y1', y(v)).attr('y2', y(v)).attr('stroke', '#fff').attr('stroke-width', 1.6));
  g.append('g').attr('transform', `translate(${L - 1.5},0)`)
    .call(d3.axisLeft(y).tickValues([0, 0.3, 0.6, 0.9]).tickFormat(d3.format('.1f')).tickSize(6).tickPadding(4))
    .call(s => axisStyle(s, 19));
  g.append('g').attr('transform', `translate(0,${B + 1.5})`)
    .call(d3.axisBottom(x).tickValues([-2, -1, 0, 1]).tickFormat(d3.format('d')).tickSize(6).tickPadding(3))
    .call(s => axisStyle(s, 19));
  label('beta coefficient', (L + R) / 2, 1202, 18);
  label('-log10 (Q value)', 580, (T + B) / 2, 18, { rotate: true });

  label('|coefficient|', 1120, 745, 18, { anchor: 'start' });
  const ly = d3.scalePoint().domain(coefLegend).range([768, 866]);
  coefLegend.forEach(v => {
    g.append('circle').attr('cx', 1142).attr('cy', ly(v)).attr('r', rad(v)).attr('fill', '#000');
    label(d3.format('.1f')(v), 1162, ly(v) + 6, 17, { anchor: 'start' });
  });
  label('E', 571, 526, 26, { fam: SERIF, anchor: 'start' });
})();

// ---------------- Panel F
(function drawF() {
  const L = 1273, R = 1627, T = 537, B = 1152;
  const x = d3.scalePoint().domain(groups).range([L, R]).padding(0.6);
  const y = d3.scaleLinear().domain([-0.684, 3.07]).range([B, T]);
  const g = svg.append('g');
  hlines(g, [-0.5, 0.5, 1.5, 2.5], y, L, R, '#ECECEC', 2.2);
  hlines(g, [0, 1, 2, 3], y, L, R, '#E3E3E3', 3.4);
  g.selectAll(null).data(groups).join('line')
    .attr('x1', d => x(d)).attr('x2', d => x(d)).attr('y1', T).attr('y2', B)
    .attr('stroke', '#E3E3E3').attr('stroke-width', 3.4);
  const hw = x.step() * 0.465;
  const violin = cx => d3.area().curve(d3.curveCatmullRom)
    .y(d => y(d[0])).x0(d => cx - d[1] * hw).x1(d => cx + d[1] * hw);
  const look = {
    Control: { prof: trichoViolinControl, line: '#0F72B8', fill: '#A9C9E6', dots: trichoControl, k: 5, jw: 34, r: 2.1 },
    SHOA:    { prof: trichoViolinSHOA,    line: '#E87E22', fill: '#F2A586', dots: trichoSHOA,    k: 6, jw: 28, r: 1.9 }
  };
  trichoBox.forEach(b => {
    const s = look[b.group], cx = x(b.group), bw = 22;
    g.append('path').attr('d', violin(cx)(s.prof)).attr('fill', s.fill)
      .attr('stroke', s.line).attr('stroke-width', 4.2).attr('stroke-linejoin', 'round');
    g.append('line').attr('x1', cx).attr('x2', cx).attr('y1', y(b.hi)).attr('y2', y(b.q3)).attr('stroke', s.line).attr('stroke-width', 3.6);
    g.append('line').attr('x1', cx).attr('x2', cx).attr('y1', y(b.q1)).attr('y2', y(b.lo)).attr('stroke', s.line).attr('stroke-width', 3.6);
    g.append('rect').attr('x', cx - bw).attr('width', 2 * bw).attr('y', y(b.q3)).attr('height', y(b.q1) - y(b.q3))
      .attr('fill', 'none').attr('stroke', s.line).attr('stroke-width', 3.6);
    g.append('line').attr('x1', cx - bw).attr('x2', cx + bw).attr('y1', y(b.med)).attr('y2', y(b.med)).attr('stroke', s.line).attr('stroke-width', 6);
    g.selectAll(null).data(s.dots).join('circle')
      .attr('cx', (d, i) => cx + jit(i, s.k) * s.jw).attr('cy', d => y(d)).attr('r', s.r).attr('fill', s.line);
  });
  g.append('rect').attr('x', L).attr('y', T).attr('width', R - L).attr('height', B - T)
    .attr('fill', 'none').attr('stroke', '#000').attr('stroke-width', 3.4);
  g.append('g').attr('transform', `translate(${L - 1.5},0)`)
    .call(d3.axisLeft(y).tickValues([0, 1, 2, 3]).tickFormat(d3.format('d')).tickSize(6).tickPadding(4))
    .call(s => axisStyle(s, 18));
  g.append('g').attr('transform', `translate(0,${B + 1.5})`)
    .call(d3.axisBottom(x).tickSize(6).tickPadding(3))
    .call(s => axisStyle(s, 19));
  label('Relative abundance', 1246, (T + B) / 2, 18, { rotate: true });
  label('Trichococcus', 1449, 577, 19);
  label('Q value=0.073', 1451, 607, 19);
  label('F', 1234, 526, 26, { fam: SERIF, anchor: 'start' });
})();
</script>
</body>
</html>
